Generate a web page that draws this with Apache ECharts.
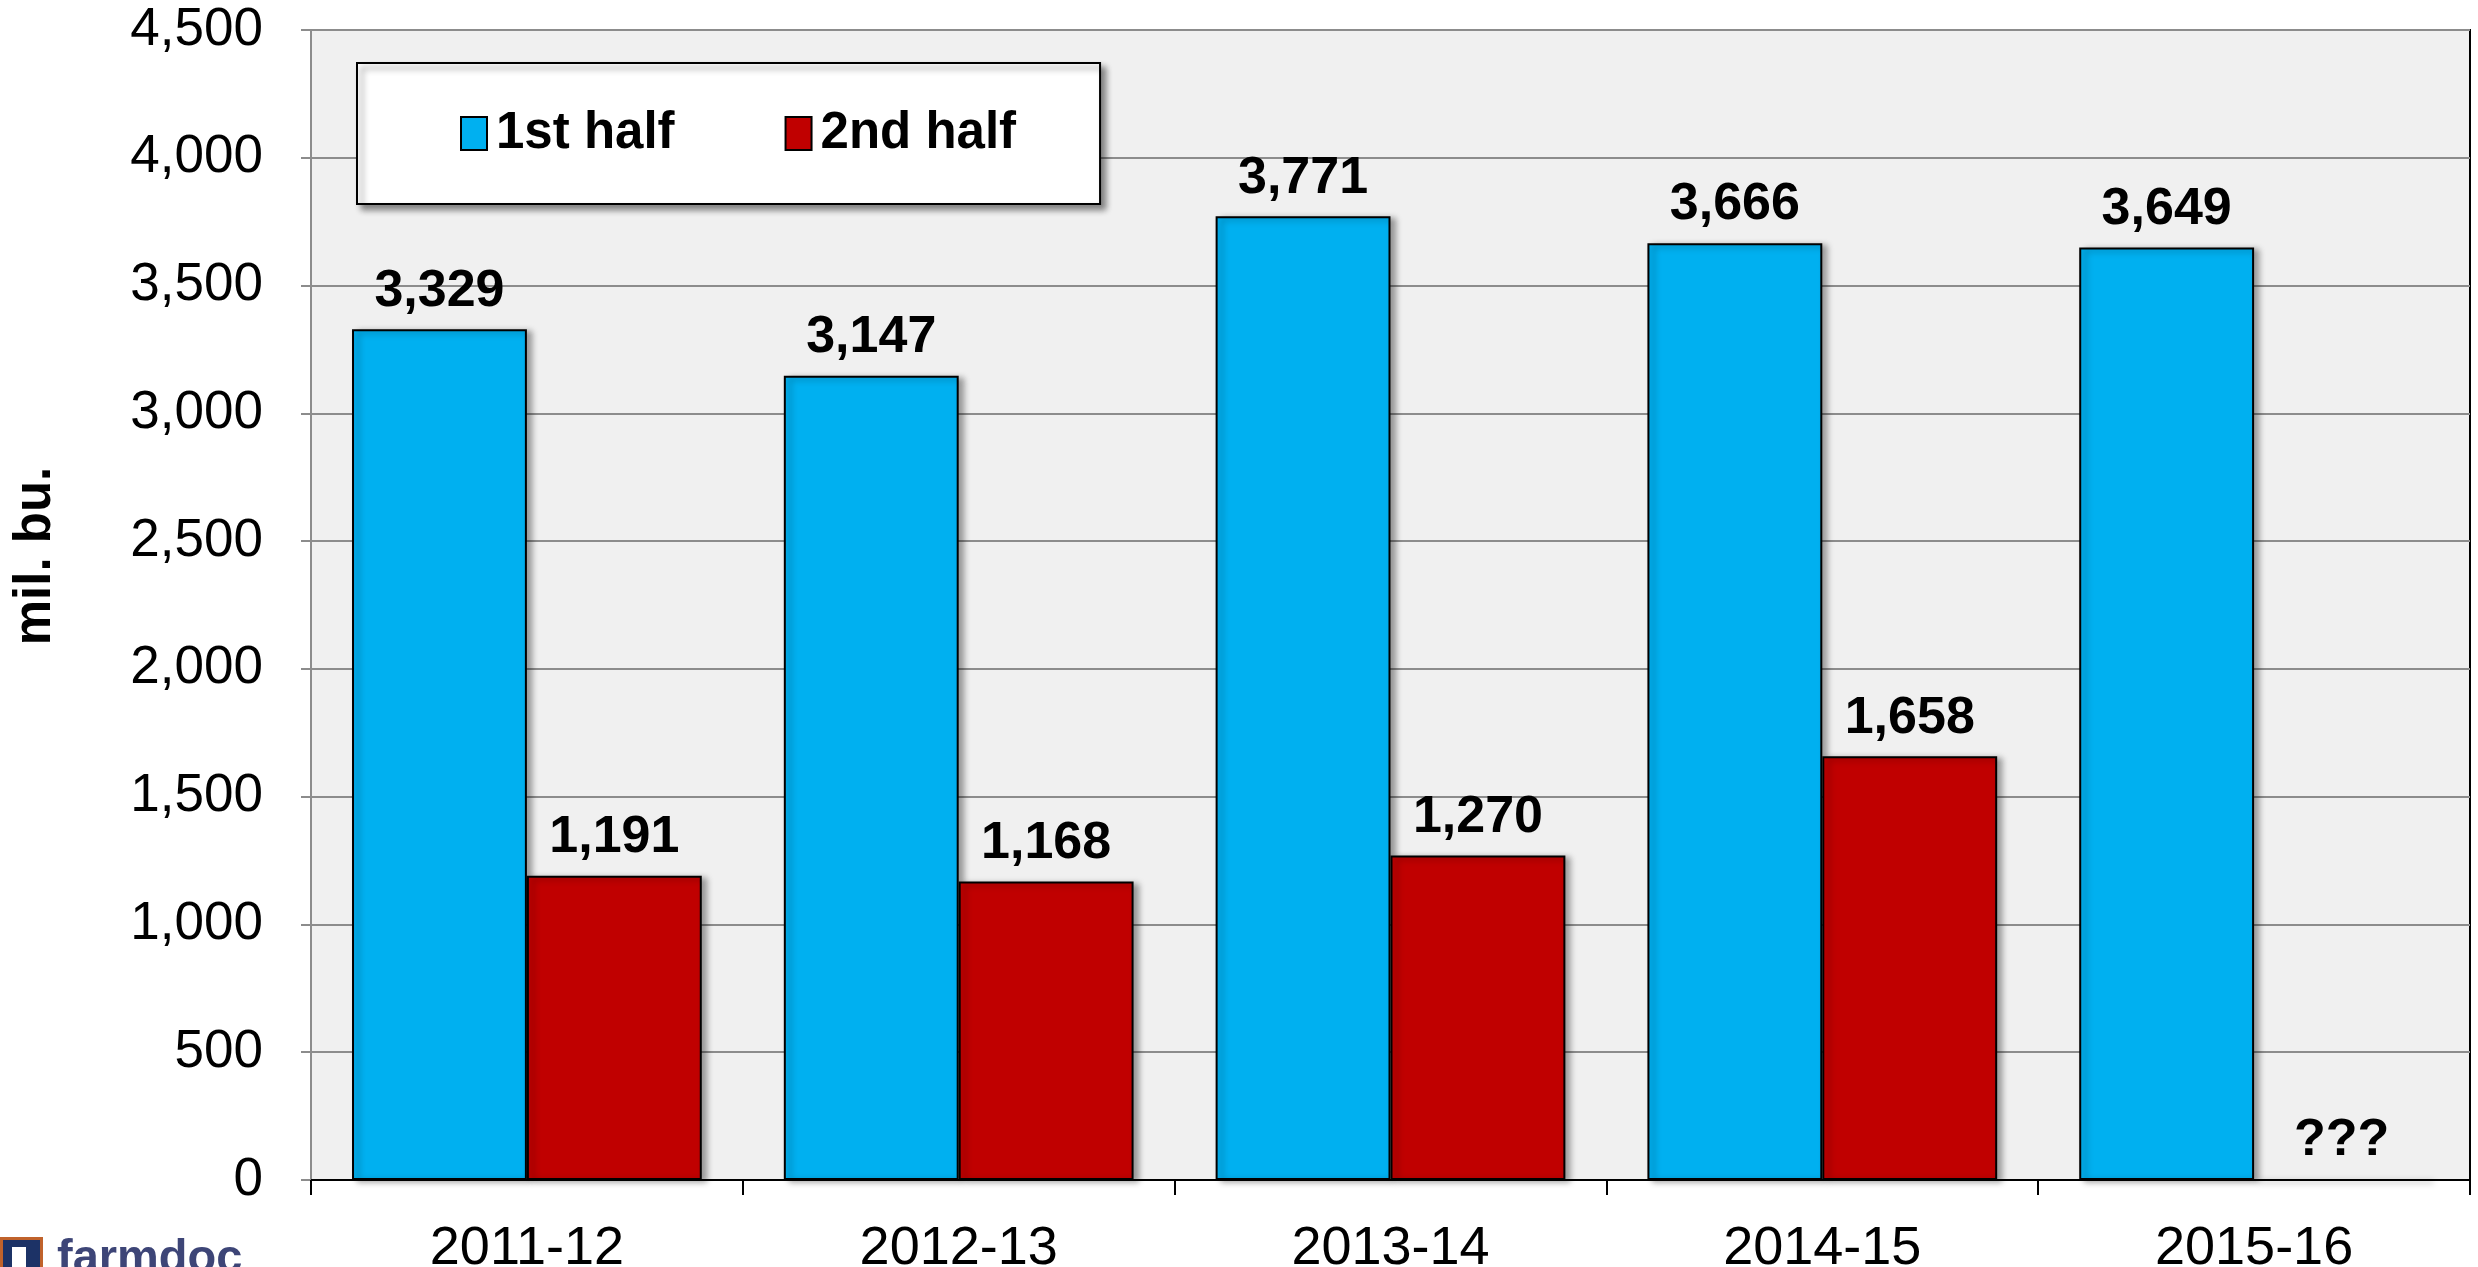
<!DOCTYPE html>
<html>
<head>
<meta charset="utf-8">
<title>Exports by half of marketing year</title>
<script src="https://cdn.jsdelivr.net/npm/echarts@6/dist/echarts.min.js"></script>
<style>
  html, body { margin: 0; padding: 0; background: #fff; }
  #chart { width: 2478px; height: 1267px; }
</style>
</head>
<body>
<div id="chart"></div>
<script>
// marketing years
const years = ['2011-12', '2012-13', '2013-14', '2014-15', '2015-16']
// mil. bu.
const firstHalf = [3329, 3147, 3771, 3666, 3649]
const secondHalf = [1191, 1168, 1270, 1658, null] // 2015-16 not known yet -> "???"
const yTicks = { min: 0, max: 4500, step: 500 }

const FONT = '"Liberation Sans", Arial, sans-serif'
const fmt = (v) => Number(v).toLocaleString('en-US')

const barStyle = (color) => ({
  color: color,
  borderColor: '#000',
  borderWidth: 2,
  shadowColor: 'rgba(0,0,0,0.35)',
  shadowBlur: 6,
  shadowOffsetX: 5,
  shadowOffsetY: 2,
})

const labelStyle = {
  show: true,
  position: 'top',
  distance: 12,
  color: '#000',
  fontFamily: FONT,
  fontWeight: 'bold',
  fontSize: 52,
  formatter: (p) => fmt(p.value),
}

// missing value is drawn as an empty bar with a question-mark label
const secondData = secondHalf.map((v) =>
  v == null ? { value: 0, label: { formatter: '???' } } : v
)

const chart = echarts.init(document.getElementById('chart'))

chart.setOption({
  animation: false,
  backgroundColor: '#fff',
  textStyle: { fontFamily: FONT },
  grid: {
    left: 311,
    right: 8,
    top: 30,
    bottom: 87,
    outerBoundsMode: 'none',
    show: true,
    backgroundColor: '#f0f0f0',
    borderColor: '#000',
    borderWidth: 2,
  },
  legend: {
    left: 357,
    top: 63,
    padding: [45, 84, 45, 103],
    itemGap: 110,
    itemWidth: 26,
    itemHeight: 33,
    backgroundColor: '#fff',
    borderColor: '#000',
    borderWidth: 2,
    shadowColor: 'rgba(0,0,0,0.45)',
    shadowBlur: 6,
    shadowOffsetX: 5,
    shadowOffsetY: 5,
    textStyle: {
      color: '#000',
      fontFamily: FONT,
      fontWeight: 'bold',
      fontSize: 51,
      padding: [0, 0, 0, 4],
    },
    data: [
      { name: '1st half', icon: 'rect', itemStyle: { borderColor: '#000', borderWidth: 2 } },
      { name: '2nd half', icon: 'rect', itemStyle: { borderColor: '#000', borderWidth: 2 } },
    ],
  },
  xAxis: {
    type: 'category',
    data: years,
    axisLine: { lineStyle: { color: '#000', width: 2 } },
    axisTick: { show: true, length: 15, lineStyle: { color: '#000', width: 2 } },
    axisLabel: { color: '#000', fontFamily: FONT, fontSize: 54, margin: 42 },
    splitLine: { show: false },
  },
  yAxis: {
    type: 'value',
    min: yTicks.min,
    max: yTicks.max,
    interval: yTicks.step,
    name: 'mil. bu.',
    nameLocation: 'middle',
    nameGap: 250,
    nameRotate: 90,
    nameTextStyle: {
      color: '#000',
      fontFamily: FONT,
      fontWeight: 'bold',
      fontSize: 51,
      padding: [0, 0, 0, 98],
    },
    axisLine: { show: true, lineStyle: { color: '#8c8c8c', width: 2 } },
    axisTick: { show: true, length: 10, lineStyle: { color: '#8c8c8c', width: 2 } },
    axisLabel: { color: '#000', fontFamily: FONT, fontSize: 53, margin: 48, formatter: fmt },
    splitLine: { lineStyle: { color: '#8c8c8c', width: 2 } },
  },
  series: [
    {
      name: '1st half',
      type: 'bar',
      data: firstHalf,
      barGap: '0%',
      barCategoryGap: '19%',
      itemStyle: barStyle('#00b0f0'),
      label: labelStyle,
    },
    {
      name: '2nd half',
      type: 'bar',
      data: secondData,
      itemStyle: barStyle('#c00000'),
      label: labelStyle,
    },
  ],
  graphic: [
    // farmdoc logo, cropped at the bottom edge like in the source
    { type: 'rect', left: 0, top: 1237, shape: { width: 40, height: 34 },
      style: { fill: '#1c3266', stroke: '#c0622b', lineWidth: 3 } },
    { type: 'rect', left: 12, top: 1247, shape: { width: 14, height: 24 },
      style: { fill: '#fff' } },
    { type: 'text', left: 57, top: 1236,
      style: { text: 'farmdoc', fill: '#3d4577', font: 'bold 47px "Liberation Sans", sans-serif' } },
  ],
})
</script>
</body>
</html>
